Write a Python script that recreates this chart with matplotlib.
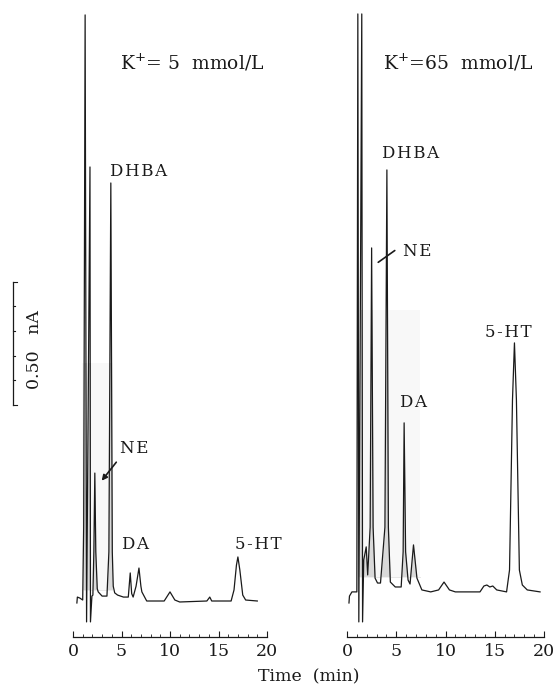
import matplotlib
matplotlib.use("Agg")
import matplotlib.pyplot as plt
from matplotlib.patches import Rectangle

plt.rcParams['font.family'] = ['DejaVu Serif']

# chromatogram traces: time (min), current (nA above baseline)
t_5 = [0.4, 0.45, 0.7, 1.0, 1.1, 1.25, 1.4, 1.75, 1.8, 1.95, 2.05, 2.15, 2.25,
       2.35, 2.5, 2.6, 3.0, 3.5, 3.7, 3.9, 4.05, 4.15, 4.3, 4.6, 5.2, 5.7, 5.9,
       6.05, 6.2, 6.5, 6.8, 7.0, 7.1, 7.6, 9.4, 10.0, 10.5, 11.0, 13.8, 14.1,
       14.3, 16.3, 16.6, 16.85, 17.0, 17.2, 17.5, 17.8, 19.0]
i_5 = [-0.008, 0.016, 0.012, 0.004, 0.3, 2.382, -0.085, 1.764, -0.085, 0.02,
       0.024, 0.2, 0.520, 0.2, 0.05, 0.037, 0.020, 0.020, 0.2, 1.699, 0.2, 0.06,
       0.033, 0.024, 0.016, 0.016, 0.114, 0.03, 0.016, 0.06, 0.134, 0.06, 0.037,
       0.0, 0.0, 0.037, 0.004, -0.004, 0.0, 0.016, 0.0, 0.0, 0.045, 0.146, 0.179,
       0.126, 0.024, 0.004, 0.0]

t_65 = [0.2, 0.25, 0.5, 1.0, 1.1, 1.2, 1.5, 1.58, 1.7, 1.95, 2.1, 2.35, 2.5,
        2.65, 2.85, 3.1, 3.4, 3.85, 4.05, 4.2, 4.4, 4.9, 5.5, 5.7, 5.8, 5.95,
        6.2, 6.4, 6.75, 7.1, 7.6, 8.5, 9.3, 9.85, 10.4, 11.0, 13.5, 13.9, 14.2,
        14.5, 14.8, 15.2, 16.2, 16.5, 16.8, 17.0, 17.2, 17.5, 17.8, 18.3, 19.6]
i_65 = [-0.008, 0.020, 0.037, 0.037, 2.386, -0.085, 2.386, -0.085, 0.167, 0.220,
        0.106, 0.3, 1.435, 0.3, 0.093, 0.073, 0.073, 0.3, 1.752, 0.3, 0.077,
        0.057, 0.057, 0.2, 0.724, 0.2, 0.085, 0.069, 0.228, 0.093, 0.045, 0.037,
        0.045, 0.077, 0.045, 0.037, 0.037, 0.061, 0.065, 0.057, 0.061, 0.045,
        0.037, 0.126, 0.817, 1.049, 0.817, 0.126, 0.065, 0.045, 0.037]

titles = ["K$^{+}$= 5  mmol/L", "K$^{+}$=65  mmol/L"]
xticks = [0, 5, 10, 15, 20]
hs = "\u200a"  # hair space, the scan's lettering is a bit spaced out

fig = plt.figure(figsize=(5.56, 6.95), dpi=100)
ink = '#1a1a1a'
ylo, yhi = -0.1463, 2.402

axL = fig.add_axes([73/556, 1 - 637/695, 194/556, 627/695])
axR = fig.add_axes([347/556, 1 - 637/695, 197/556, 627/695])

# faint grey photocopy band behind the early peaks
bands = {axL: (0.93, 4.0, 0.045, 0.967), axR: (1.1, 7.4, 0.098, 1.183)}

for ax, t, i in [(axL, t_5, i_5), (axR, t_65, i_65)]:
    x0, x1, y0, y1 = bands[ax]
    band = Rectangle((x0, y0), x1 - x0, y1 - y0, color='#f8f8f8', lw=0, zorder=0)
    ax.add_patch(band)
    fb = ax.fill_between(t, i, y0, color='#d9d9d9', lw=0, zorder=1)
    fb.set_clip_path(Rectangle((x0, y0), x1 - x0, y1 - y0, transform=ax.transData))
    ax.plot(t, i, color=ink, lw=0.9, clip_on=False, zorder=3)
    ax.set_xlim(0, 20)
    ax.set_ylim(ylo, yhi)
    for s in ['top', 'left', 'right']:
        ax.spines[s].set_visible(False)
    ax.spines['bottom'].set_color(ink)
    ax.spines['bottom'].set_linewidth(0.9)
    ax.set_yticks([])
    ax.set_xticks(xticks)
    ax.set_xticks(range(0, 21), minor=True)
    ax.tick_params(axis='x', direction='in', length=4, width=0.8, color=ink,
                   labelsize=12.5, pad=4, labelcolor=ink)
    ax.tick_params(axis='x', which='minor', direction='in', length=2, width=0.6, color=ink)
    ax.patch.set_alpha(0)

lab = dict(fontsize=12, color=ink, va='center', ha='left')

# left panel
axL.text(4.85, 2.187, titles[0], fontsize=13.5, color=ink, va='center', ha='left')
axL.text(3.81, 1.744, hs.join("DHBA"), **lab)
axL.text(4.85, 0.618, hs.join("NE"), **lab)
axL.annotate("", xy=(2.78, 0.48), xytext=(4.64, 0.573),
             arrowprops=dict(arrowstyle='-|>', color=ink, lw=1.2, mutation_scale=8))
axL.text(5.05, 0.228, hs.join("DA"), **lab)
axL.text(16.7, 0.228, hs.join("5-HT"), clip_on=False, **lab)

# scale bar 0.50 nA
sb_x, sb_lo, sb_hi = -6.19, 0.797, 1.297
axL.plot([sb_x, sb_x], [sb_lo, sb_hi], color=ink, lw=0.9, clip_on=False)
for k in range(6):
    yy = sb_lo + 0.1 * k
    ln = 0.4 if k in (0, 5) else 0.2
    axL.plot([sb_x, sb_x + ln], [yy, yy], color=ink, lw=0.8, clip_on=False)
axL.text(-3.92, 1.02, "0.50   nA", rotation=90, fontsize=12.5, color=ink,
         ha='center', va='center', clip_on=False)

# right panel
axR.text(3.65, 2.187, titles[1], fontsize=13.5, color=ink, va='center', ha='left')
axR.text(3.55, 1.817, hs.join("DHBA"), **lab)
axR.text(5.69, 1.419, hs.join("NE"), **lab)
axR.annotate("", xy=(2.94, 1.37), xytext=(5.08, 1.431),
             arrowprops=dict(arrowstyle='-', color=ink, lw=1.2))
axR.text(5.38, 0.805, hs.join("DA"), **lab)
axR.text(14.0, 1.093, hs.join("5-HT"), **lab)

fig.text(309/556, 1 - 677/695, "Time  (min)", fontsize=12.5, color=ink,
         ha='center', va='center')

fig.savefig("out.png", dpi=100)
